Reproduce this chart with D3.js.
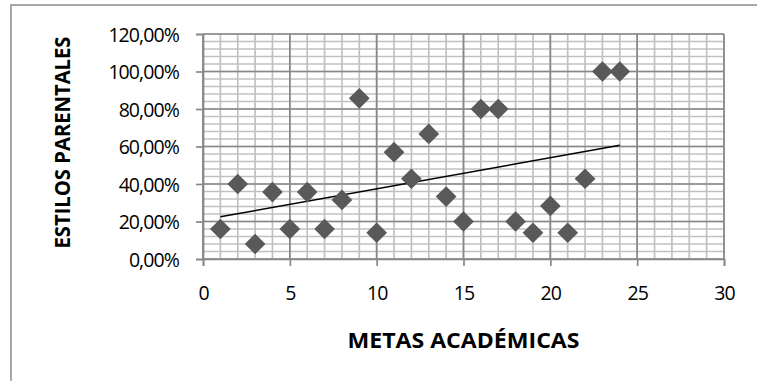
<!DOCTYPE html>
<html>
<head>
<meta charset="utf-8">
<script src="https://cdn.jsdelivr.net/npm/d3@7"></script>
<style>
  html, body { margin: 0; padding: 0; background: #fff; }
  svg { display: block; }
  text { font-family: "Open Sans", "Noto Sans", sans-serif; fill: #000; }
</style>
</head>
<body>
<svg id="chart" width="757" height="381"></svg>
<script>
// Metas académicas (x) vs. estilos parentales (y, fraction)
const metas = [1, 2, 3, 4, 5, 6, 7, 8, 9, 10, 11, 12, 13, 14, 15, 16, 17, 18, 19, 20, 21, 22, 23, 24];
const estilos = [0.16, 0.40, 0.08, 0.357, 0.16, 0.357, 0.16, 0.315, 0.857, 0.14, 0.57, 0.428, 0.667, 0.333, 0.20, 0.80, 0.80, 0.20, 0.14, 0.283, 0.14, 0.428, 1.00, 1.00];

const xTicks = [0, 5, 10, 15, 20, 25, 30];
const yTicks = [0, 0.2, 0.4, 0.6, 0.8, 1.0, 1.2];
const xMinor = d3.range(0, 31, 1);
const yMinor = d3.range(0, 1.2001, 0.04);

const xTitle = "METAS ACADÉMICAS";
const yTitle = "ESTILOS PARENTALES";

const svg = d3.select("#chart");

// chart frame
svg.append("rect")
  .attr("x", 11).attr("y", 5)
  .attr("width", 760).attr("height", 390)
  .attr("fill", "none").attr("stroke", "#8c8c8c").attr("stroke-width", 1.5);

const x = d3.scaleLinear().domain([0, 30]).range([203, 724]);
const y = d3.scaleLinear().domain([0, 1.2]).range([259, 34]);

const fmtPct = v => d3.format(".2f")(v * 100).replace(".", ",") + "%";

// minor grid
const grid = svg.append("g");
grid.selectAll("line.ymin").data(yMinor).join("line")
  .attr("x1", x(0)).attr("x2", x(30))
  .attr("y1", d => y(d)).attr("y2", d => y(d))
  .attr("stroke", "#c0c0c0").attr("stroke-width", 1.7);
grid.selectAll("line.xmin").data(xMinor).join("line")
  .attr("y1", y(0)).attr("y2", y(1.2))
  .attr("x1", d => x(d)).attr("x2", d => x(d))
  .attr("stroke", "#c0c0c0").attr("stroke-width", 1.7);
// major grid
grid.selectAll("line.ymaj").data(yTicks).join("line")
  .attr("x1", x(0)).attr("x2", x(30))
  .attr("y1", d => y(d)).attr("y2", d => y(d))
  .attr("stroke", "#888").attr("stroke-width", 1.7);
grid.selectAll("line.xmaj").data(xTicks).join("line")
  .attr("y1", y(0)).attr("y2", y(1.2))
  .attr("x1", d => x(d)).attr("x2", d => x(d))
  .attr("stroke", "#888").attr("stroke-width", 1.7);

// axes
const yAxis = d3.axisLeft(y).tickValues(yTicks).tickFormat(fmtPct).tickSize(7).tickPadding(17);
const xAxis = d3.axisBottom(x).tickValues(xTicks).tickSize(7).tickPadding(20);

const gy = svg.append("g").attr("transform", `translate(${x(0)},0)`).call(yAxis);
const gx = svg.append("g").attr("transform", `translate(0,${y(0)})`).call(xAxis);
[gx, gy].forEach(g => {
  g.select(".domain").attr("stroke", "#888").attr("stroke-width", 1.7);
  g.selectAll(".tick line").attr("stroke", "#888").attr("stroke-width", 1.7);
  g.selectAll(".tick text")
    .attr("font-family", "'Open Sans', sans-serif")
    .attr("font-size", 19.5)
    .attr("letter-spacing", -0.9)
    .attr("fill", "#000");
});
gy.selectAll(".tick text").attr("dy", "0.36em");

// trend line (least squares)
const mx = d3.mean(metas), my = d3.mean(estilos);
const sxy = d3.sum(metas, (d, i) => (d - mx) * (estilos[i] - my));
const sxx = d3.sum(metas, d => (d - mx) * (d - mx));
const slope = sxy / sxx, icpt = my - slope * mx;
const x0 = d3.min(metas), x1 = d3.max(metas);
svg.append("line")
  .attr("x1", x(x0)).attr("y1", y(icpt + slope * x0))
  .attr("x2", x(x1)).attr("y2", y(icpt + slope * x1))
  .attr("stroke", "#000").attr("stroke-width", 1.5);

// diamond markers
const diamond = d3.symbol().type(d3.symbolSquare).size(215);
svg.append("g").selectAll("path").data(metas).join("path")
  .attr("d", diamond)
  .attr("transform", (d, i) => `translate(${x(d)},${y(estilos[i])}) rotate(45)`)
  .attr("fill", "#595959");

// titles
svg.append("text")
  .attr("x", (x(0) + x(30)) / 2).attr("y", 348)
  .attr("text-anchor", "middle")
  .attr("font-weight", "bold").attr("font-size", 20.5)
  .attr("textLength", 232).attr("lengthAdjust", "spacingAndGlyphs")
  .text(xTitle);
svg.append("text")
  .attr("transform", `translate(70,${(y(0) + y(1.2)) / 2 - 4}) rotate(-90)`)
  .attr("text-anchor", "middle")
  .attr("font-weight", "bold").attr("font-size", 20.5)
  .attr("textLength", 212).attr("lengthAdjust", "spacingAndGlyphs")
  .text(yTitle);
</script>
</body>
</html>
